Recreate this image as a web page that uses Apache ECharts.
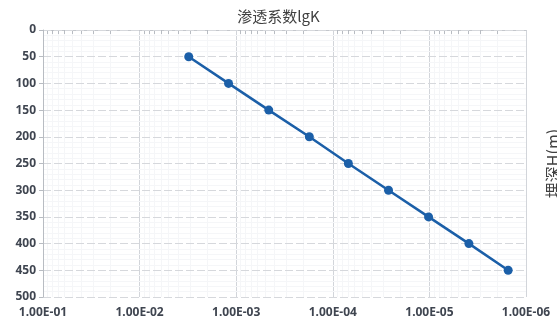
<!DOCTYPE html>
<html>
<head>
<meta charset="utf-8">
<script src="https://cdn.jsdelivr.net/npm/echarts@6/dist/echarts.min.js"></script>
<style>
  html, body { margin: 0; padding: 0; background: #ffffff; }
  #chart { width: 557px; height: 324px; }
</style>
</head>
<body>
<div id="chart"></div>
<script>
// Permeability coefficient K (m/s) against burial depth H (m)
const depths = [50, 100, 150, 200, 250, 300, 350, 400, 450];
const permeability = [3.1e-3, 1.2e-3, 4.6e-4, 1.75e-4, 6.9e-5, 2.65e-5, 1.02e-5, 3.9e-6, 1.53e-6];

const titleText = '渗透系数lgK';
const depthAxisName = '埋深H(m)';
const kMin = 1e-6;
const kMax = 1e-1;
const depthMin = 0;
const depthMax = 500;
const depthStep = 50;

// Minor log ticks (2..9 within each decade)
const minorLogTicks = [];
for (let e = -6; e <= -2; e++) {
  for (let m = 2; m <= 9; m++) {
    minorLogTicks.push(+(m * Math.pow(10, e)).toPrecision(3));
  }
}

function sciLabel(v) {
  const s = Number(v).toExponential(2).split('e');
  const exp = parseInt(s[1], 10);
  const sign = exp < 0 ? '-' : '+';
  const mag = String(Math.abs(exp)).padStart(2, '0');
  return s[0] + 'E' + sign + mag;
}

const labelColor = '#3f4550';
const fontFamily = '"Noto Sans", "Noto Sans CJK SC", sans-serif';

const chart = echarts.init(document.getElementById('chart'));
chart.setOption({
  animation: false,
  backgroundColor: '#ffffff',
  title: {
    text: titleText,
    left: 'center',
    top: 4,
    textStyle: {
      fontFamily: '"Noto Sans CJK SC", sans-serif',
      fontSize: 15,
      fontWeight: 'normal',
      color: '#404040'
    }
  },
  grid: { left: 43, right: 31, top: 30, bottom: 27, outerBoundsMode: 'none', containLabel: false },
  xAxis: [
    {
      type: 'log',
      logBase: 10,
      min: kMin,
      max: kMax,
      inverse: true,
      position: 'bottom',
      axisLine: { show: false },
      axisTick: { show: false },
      axisLabel: {
        formatter: sciLabel,
        margin: 10,
        color: labelColor,
        fontSize: 12,
        fontWeight: 'bold',
        fontFamily: fontFamily
      },
      splitLine: { show: true, lineStyle: { color: '#d2d5da', width: 1 } }
    },
    {
      type: 'log',
      logBase: 10,
      min: kMin,
      max: kMax,
      inverse: true,
      position: 'top',
      axisLine: { show: true, lineStyle: { color: '#c4c7cc', width: 1 } },
      axisTick: {
        show: true,
        inside: true,
        length: 4,
        customValues: minorLogTicks,
        lineStyle: { color: '#b8bcc2' }
      },
      axisLabel: { show: false },
      splitLine: { show: true, lineStyle: { color: '#f5f6f8', width: 1 } }
    }
  ],
  yAxis: [
    {
      type: 'value',
      min: depthMin,
      max: depthMax,
      interval: depthStep,
      inverse: true,
      axisLine: { show: true, lineStyle: { color: '#b8bcc2', width: 1 } },
      axisTick: { show: true, inside: false, length: 4, lineStyle: { color: '#b8bcc2' } },
      axisLabel: {
        margin: 7,
        color: labelColor,
        fontSize: 12,
        fontWeight: 'bold',
        fontFamily: fontFamily
      },
      splitLine: { show: true, lineStyle: { color: '#d6d8dc', width: 1, type: [8, 3] } },
      minorTick: { show: false, splitNumber: 5 },
      minorSplitLine: { show: true, lineStyle: { color: '#f5f6f8', width: 1 } },
      z: 3
    },
    {
      type: 'value',
      min: depthMin,
      max: depthMax,
      interval: depthStep,
      inverse: true,
      position: 'right',
      name: depthAxisName,
      nameLocation: 'middle',
      nameGap: 19,
      nameTextStyle: {
        fontFamily: '"Noto Sans CJK SC", sans-serif',
        fontSize: 16,
        color: '#404040'
      },
      axisLine: { show: false },
      axisTick: { show: false },
      axisLabel: { show: false },
      splitLine: { show: false }
    }
  ],
  series: [
    {
      type: 'line',
      xAxisIndex: 0,
      yAxisIndex: 0,
      data: permeability.map((k, i) => [k, depths[i]]),
      symbol: 'circle',
      symbolSize: 9,
      lineStyle: { color: '#1b5fa8', width: 2.5 },
      itemStyle: { color: '#1b5fa8' },
      z: 5
    }
  ]
});
</script>
</body>
</html>
